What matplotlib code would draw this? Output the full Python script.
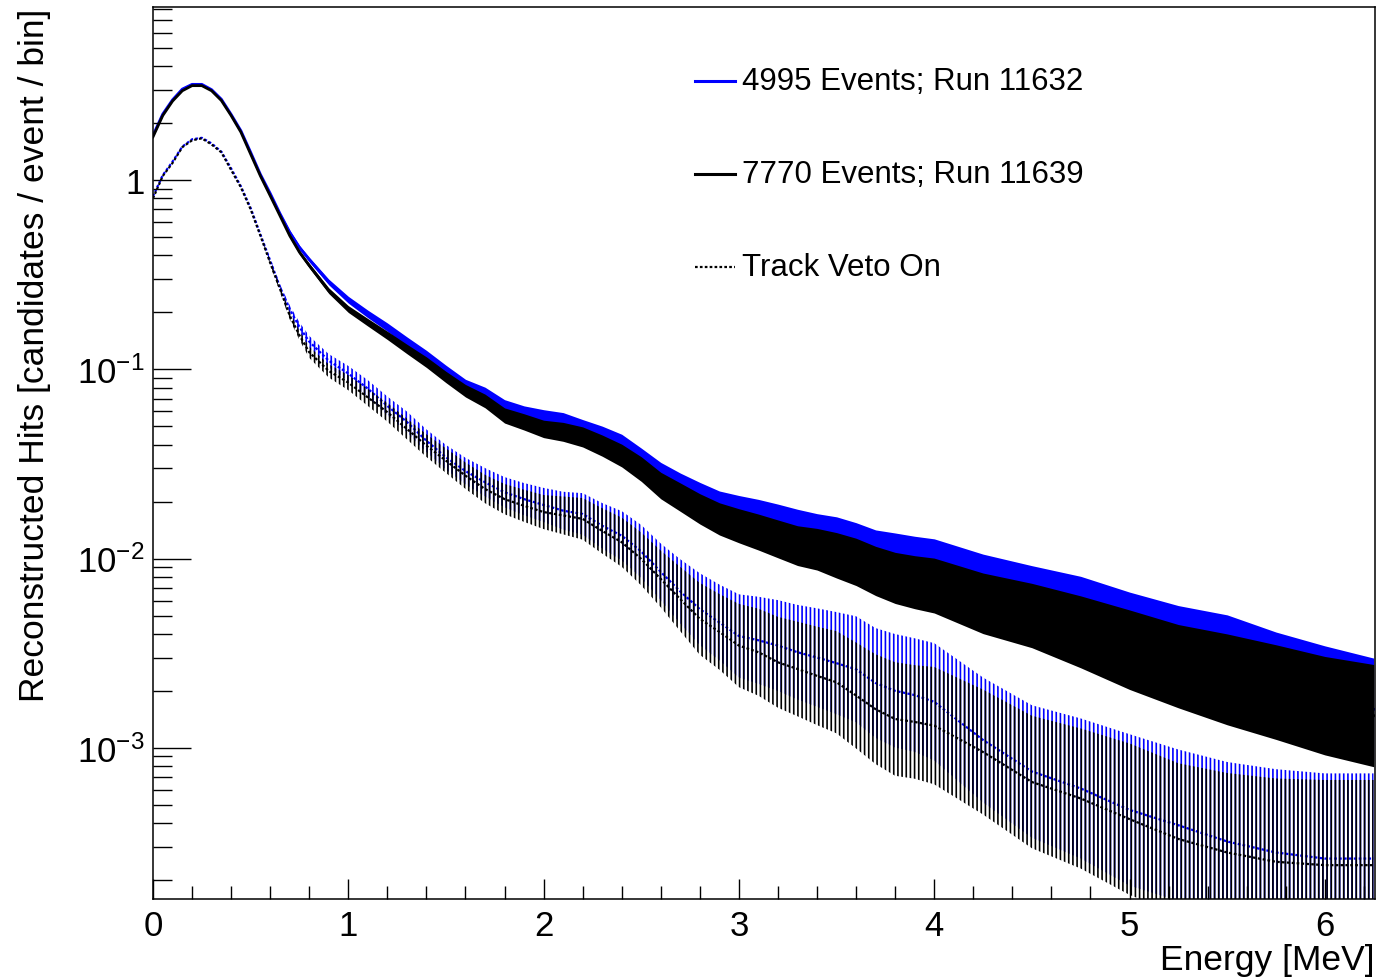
import numpy as np
import matplotlib
matplotlib.use("Agg")
import matplotlib.pyplot as plt
from matplotlib.ticker import FixedLocator, LogLocator, NullFormatter, FixedFormatter, MultipleLocator
from matplotlib.lines import Line2D

plt.rcParams['font.family'] = ['Liberation Sans', 'DejaVu Sans']
plt.rcParams['mathtext.fontset'] = 'custom'
plt.rcParams['mathtext.rm'] = 'Liberation Sans'
plt.rcParams['mathtext.it'] = 'Liberation Sans:italic'
plt.rcParams['hatch.linewidth'] = 1.2

# ---------------- data ----------------
energy = [0.0, 0.05, 0.1, 0.15, 0.2, 0.25, 0.3, 0.35, 0.4, 0.45,
          0.5, 0.55, 0.6, 0.65, 0.7, 0.75, 0.8, 0.9,
          1.0, 1.1, 1.2, 1.3, 1.4, 1.5, 1.6, 1.7, 1.8, 1.9,
          2.0, 2.1, 2.2, 2.3, 2.4, 2.5, 2.6, 2.7, 2.8, 2.9,
          3.0, 3.1, 3.2, 3.3, 3.4, 3.5, 3.6, 3.7, 3.8, 3.9,
          4.0, 4.25, 4.5, 4.75, 5.0, 5.25, 5.5, 5.75, 6.0, 6.25]

run11632 = [1.72, 2.23, 2.65, 3.02, 3.20, 3.20, 3.00, 2.67, 2.22, 1.82,
            1.40, 1.07, 0.85, 0.665, 0.53, 0.44, 0.38, 0.289,
            0.233, 0.196, 0.167, 0.140, 0.118, 0.098, 0.082, 0.074, 0.063, 0.058,
            0.055, 0.0526, 0.048, 0.044, 0.0395, 0.033, 0.0274, 0.0238, 0.021, 0.0187,
            0.0175, 0.0165, 0.0154, 0.0143, 0.0134, 0.0126, 0.0116, 0.0105, 0.0100, 0.0095,
            0.0091, 0.0073, 0.0062, 0.0052, 0.0041, 0.0034, 0.0029, 0.0023, 0.0019, 0.0016]

run11639 = [1.69, 2.19, 2.61, 2.96, 3.15, 3.15, 2.96, 2.63, 2.19, 1.79,
            1.37, 1.05, 0.826, 0.648, 0.508, 0.415, 0.353, 0.260,
            0.208, 0.177, 0.151, 0.128, 0.109, 0.091, 0.077, 0.068, 0.057, 0.0527,
            0.0484, 0.0467, 0.0439, 0.0395, 0.035, 0.0297, 0.0243, 0.0211, 0.0183, 0.0162,
            0.0149, 0.0138, 0.0127, 0.0117, 0.0112, 0.0104, 0.0096, 0.0086, 0.0079, 0.0075,
            0.0072, 0.0058, 0.0050, 0.0041, 0.0033, 0.0027, 0.0023, 0.00197, 0.00167, 0.00148]

run11632_veto = [0.82, 1.06, 1.25, 1.50, 1.64, 1.67, 1.56, 1.41, 1.15, 0.925,
                 0.71, 0.515, 0.375, 0.272, 0.208, 0.167, 0.140, 0.111,
                 0.095, 0.079, 0.064, 0.0527, 0.0419, 0.0343, 0.029, 0.0253, 0.0224, 0.0206,
                 0.0192, 0.0179, 0.0172, 0.0149, 0.0132, 0.0109, 0.0085, 0.0067, 0.0054, 0.0046,
                 0.0039, 0.0037, 0.00347, 0.0032, 0.0030, 0.0028, 0.0026, 0.0022, 0.0020, 0.0019,
                 0.00175, 0.0011, 0.00075, 0.00061, 0.00047, 0.00039, 0.00032, 0.00028, 0.00026, 0.00026]

run11639_veto = [0.80, 1.05, 1.23, 1.49, 1.62, 1.66, 1.54, 1.40, 1.13, 0.915,
                 0.70, 0.508, 0.365, 0.266, 0.192, 0.151, 0.123, 0.098,
                 0.085, 0.071, 0.0593, 0.0484, 0.0395, 0.0329, 0.0274, 0.0233, 0.0206, 0.019,
                 0.0176, 0.0169, 0.0162, 0.014, 0.0122, 0.00995, 0.0078, 0.0061, 0.0048, 0.0041,
                 0.00347, 0.0032, 0.00283, 0.00261, 0.0024, 0.00222, 0.00189, 0.0016, 0.00142, 0.00137,
                 0.00131, 0.00095, 0.00066, 0.00054, 0.00042, 0.00033, 0.00028, 0.00025, 0.00024, 0.00024]

# bin-to-bin scatter (half-width, in decades)
scatter_solid = [0, 0, 0, 0, 0, 0, 0, 0, 0, 0,
                 0, 0, 0.005, 0.007, 0.01, 0.011, 0.012, 0.015,
                 0.018, 0.02, 0.022, 0.025, 0.028, 0.03, 0.033, 0.036, 0.04, 0.043,
                 0.046, 0.05, 0.053, 0.056, 0.06, 0.065, 0.07, 0.075, 0.08, 0.085,
                 0.09, 0.095, 0.10, 0.105, 0.11, 0.12, 0.125, 0.13, 0.135, 0.14,
                 0.145, 0.16, 0.17, 0.19, 0.21, 0.22, 0.24, 0.25, 0.26, 0.27]

scatter_veto = [0, 0, 0, 0, 0, 0, 0, 0, 0, 0,
                0, 0, 0.01, 0.015, 0.02, 0.025, 0.03, 0.035,
                0.04, 0.045, 0.05, 0.055, 0.06, 0.065, 0.07, 0.075, 0.08, 0.085,
                0.09, 0.10, 0.11, 0.12, 0.13, 0.14, 0.15, 0.17, 0.19, 0.20,
                0.22, 0.23, 0.24, 0.25, 0.26, 0.27, 0.28, 0.29, 0.30, 0.30,
                0.31, 0.33, 0.35, 0.37, 0.40, 0.40, 0.42, 0.44, 0.45, 0.45]

legend_labels = ["4995 Events; Run 11632", "7770 Events; Run 11639", "Track Veto On"]
ytick_vals = [1e-3, 1e-2, 1e-1, 1]
ytick_labels = [r"$\mathdefault{10^{-3}}$", r"$\mathdefault{10^{-2}}$", r"$\mathdefault{10^{-1}}$", "1"]

# ---------------- figure ----------------
W, H = 1398, 979
fig = plt.figure(figsize=(W / 100, H / 100), dpi=100)
ax = fig.add_axes([153 / W, 1 - 900 / H, (1375 - 153) / W, (900 - 8) / H])

E = np.array(energy)
BLUE = "#0000ff"
BLACK = "#000000"

def band(y, sc):
    y = np.array(y)
    s = 10 ** np.array(sc)
    return y / s, y * s

z = 1.0
# veto-on spectra (dotted)
for vals, col in [(run11632_veto, BLUE), (run11639_veto, BLACK)]:
    lo, hi = band(vals, scatter_veto)
    ax.fill_between(E, lo, hi, facecolor="none", edgecolor=col, hatch="||||",
                    linewidth=0, zorder=z)
    ax.plot(E, vals, color=col, lw=1.6, ls=(0, (1.2, 1.0)), zorder=z + 0.1)
    z += 0.2

# no-veto spectra (solid)
for vals, col in [(run11632, BLUE), (run11639, BLACK)]:
    lo, hi = band(vals, scatter_solid)
    ax.fill_between(E, lo, hi, color=col, linewidth=0, zorder=z)
    ax.plot(E, vals, color=col, lw=2.0, zorder=z + 0.1)
    z += 0.2

ax.set_yscale("log")
ax.set_xlim(0, 6.257)
ax.set_ylim(1.59e-4, 8.2)

# ticks (ROOT style, inside, bottom/left only)
ax.xaxis.set_major_locator(MultipleLocator(1))
ax.xaxis.set_minor_locator(MultipleLocator(0.2))
ax.yaxis.set_major_locator(FixedLocator(ytick_vals))
ax.yaxis.set_major_formatter(FixedFormatter(ytick_labels))
ax.yaxis.set_minor_locator(LogLocator(base=10, subs=np.arange(2, 10)))
ax.yaxis.set_minor_formatter(NullFormatter())
ax.tick_params(axis="x", which="major", direction="in", length=14.5, width=1.0, labelsize=25, pad=7)
ax.tick_params(axis="x", which="minor", direction="in", length=9.5, width=1.0)
ax.tick_params(axis="y", which="major", direction="in", length=27, width=1.0, labelsize=25, pad=6)
ax.tick_params(axis="y", which="minor", direction="in", length=13.5, width=1.0)
ax.tick_params(top=False, right=False, which="both")
for sp in ax.spines.values():
    sp.set_linewidth(1.1)
    sp.set_zorder(5)

# axis titles (ROOT: aligned to axis end)
fig.text(1375 / W, 1 - 970 / H, "Energy [MeV]", ha="right", va="baseline", fontsize=25.5)
fig.text(35 / W, 1 - 355 / H, "Reconstructed Hits [candidates / event / bin]",
         rotation=90, ha="center", va="center", fontsize=25.5)

# legend (no frame)
leg_y = [82, 175, 268]
leg_styles = [dict(color=BLUE, lw=2.2, ls="-"), dict(color=BLACK, lw=2.2, ls="-"),
              dict(color=BLACK, lw=1.6, ls=(0, (1.2, 1.0)))]
for yy, lab, st in zip(leg_y, legend_labels, leg_styles):
    yf = 1 - yy / H
    fig.add_artist(Line2D([695 / W, 735 / W], [yf, yf], transform=fig.transFigure, **st))
    fig.text(742 / W, yf, lab, ha="left", va="center", fontsize=22.5)

fig.savefig("out.png", dpi=100)
